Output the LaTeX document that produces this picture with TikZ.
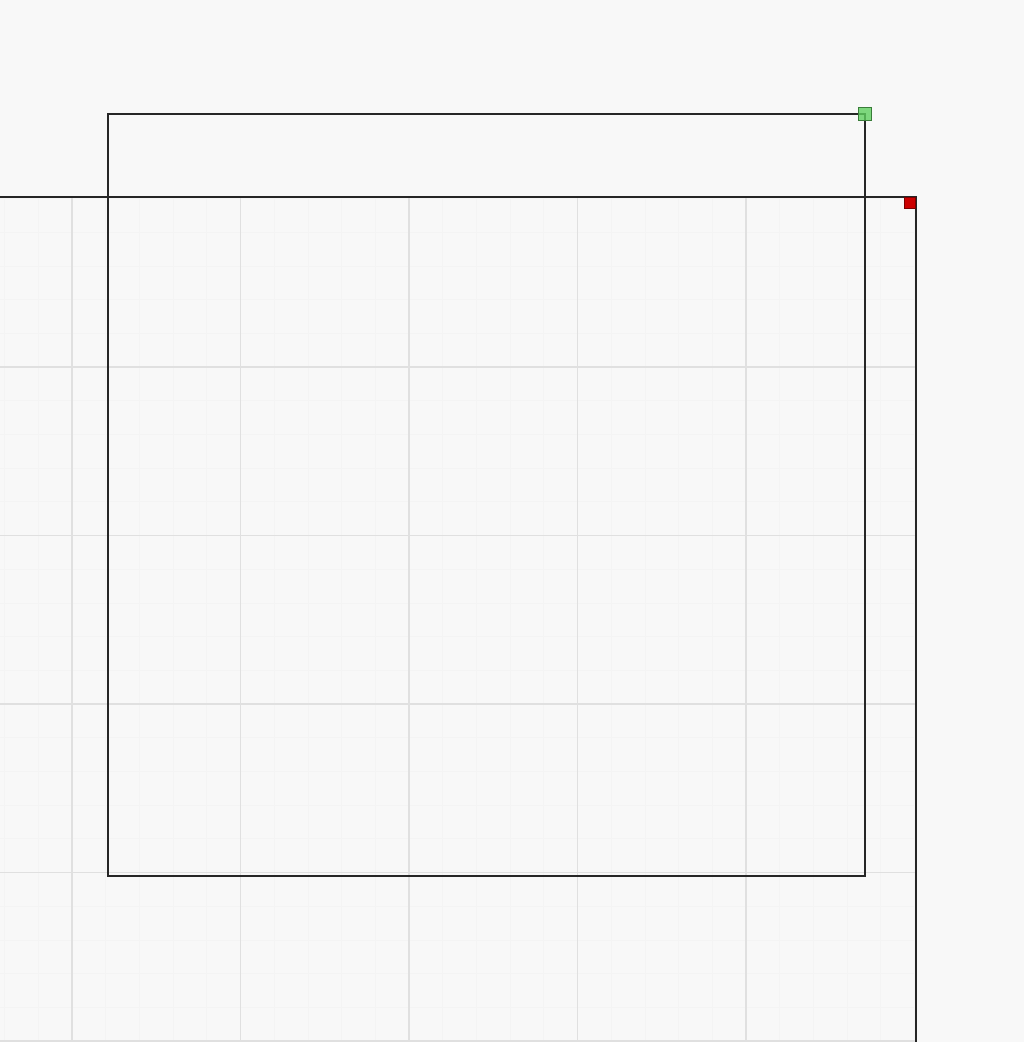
\documentclass[tikz,border=0pt]{standalone}
\usetikzlibrary{positioning}
\definecolor{canvasbg}{HTML}{F8F8F8}
\definecolor{gridmajor}{HTML}{E0E0E0}
\definecolor{gridminor}{HTML}{F4F4F4}
\definecolor{handlegreen}{HTML}{5FCF5F}
\definecolor{handlered}{HTML}{CC0000}
\tikzset{
  frameline/.style={draw=black!85, line width=1.6pt},
  handle/.style={draw=#1!60!black, fill=#1, line width=0.8pt, inner sep=0pt, minimum size=13pt},
}

\begin{document}
\begin{tikzpicture}[x=1pt, y=-1pt]
		\useasboundingbox[fill=canvasbg] (0,0) rectangle (1024,1042);
		\clip (0,0) rectangle (1024,1042);
		
		% grid of the page
		\coordinate (pagetl) at (0,197);
		\coordinate (pagebr) at (916,1042);
		\begin{scope}
			\clip (pagetl) rectangle (pagebr);
			\foreach \k in {0,...,30} {
				\draw[gridminor, line width=0.8pt] ({-96.5+\k*33.7},197) -- ({-96.5+\k*33.7},1042);
				\draw[gridminor, line width=0.8pt] (0,{198.5+\k*33.7}) -- (916,{198.5+\k*33.7});
			}
			\foreach \k in {1,...,5} {
				\draw[gridmajor, line width=1.5pt] ({-96.5+\k*168.5},197) -- ({-96.5+\k*168.5},1042);
				\draw[gridmajor, line width=1.5pt] (0,{198.5+\k*168.5}) -- (916,{198.5+\k*168.5});
			}
		\end{scope}
		
		% page border
		\draw[frameline] ([xshift=-10pt]pagetl) -- (pagetl -| pagebr) -- ([yshift=-10pt]pagebr);
		
		% selected shape
		\node[frameline, anchor=north west, minimum width=757pt, minimum height=762pt, inner sep=0pt] (shape) at (107,113) {};
		
		% handles
		\node[handle=handlered, minimum size=11pt, anchor=north east] (pagehandle) at (pagetl -| pagebr) {};
		\node[handle=handlegreen, fill opacity=0.8] (shapehandle) at ([xshift=-1pt,yshift=-1pt]shape.north east) {};
	\end{tikzpicture}
\end{document}
